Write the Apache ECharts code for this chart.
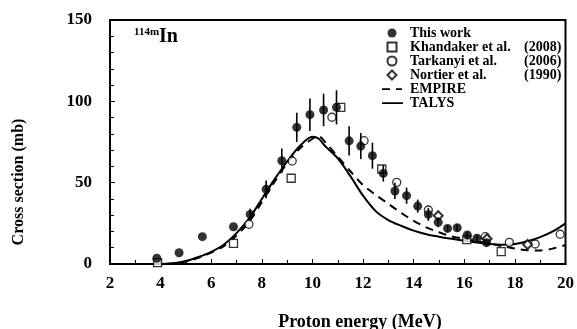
<!DOCTYPE html>
<html>
<head>
<meta charset="utf-8">
<script src="https://cdn.jsdelivr.net/npm/echarts@6/dist/echarts.min.js"></script>
<style>
  html, body { margin: 0; padding: 0; background: #fff; }
  #chart { width: 577px; height: 329px; }
</style>
</head>
<body>
<div id="chart"></div>
<script>
// This work (energy MeV, cross section mb, uncertainty mb)
var thisWorkE   = [3.85, 4.73, 5.65, 6.88, 7.54, 8.17, 8.79, 9.38, 9.9, 10.44, 10.95, 11.45, 11.91, 12.37, 12.8, 13.26, 13.72, 14.16, 14.58, 14.97, 15.34, 15.72, 16.12, 16.5, 16.88];
var thisWorkCS  = [3.5, 6.9, 16.8, 22.9, 30.5, 45.9, 63.5, 84, 91.8, 94.7, 96.3, 75.7, 72.5, 66.6, 55.7, 44.9, 42, 35.6, 30.5, 25.6, 21.9, 22.3, 17.8, 15.8, 13.1];
var thisWorkErr = [0, 0, 0, 0, 3.5, 5.5, 7.5, 9, 10, 10, 10.5, 9, 8, 8, 5, 5, 5, 4, 4, 3, 2, 2, 2, 2, 2];

var khandakerE  = [3.88, 6.88, 9.16, 11.12, 12.74, 16.1, 17.46];
var khandakerCS = [0.8, 12.7, 52.7, 96.3, 58.4, 15, 7.6];

var tarkanyiE  = [7.49, 9.2, 10.77, 12.04, 13.33, 14.58, 16.83, 17.78, 18.8, 19.79];
var tarkanyiCS = [24.4, 63.3, 90.2, 75.8, 50.2, 33.2, 16.8, 13.3, 12.3, 18.3];

var nortierE  = [14.97, 16.9, 18.5];
var nortierCS = [29.7, 15.5, 12];

var empireE  = [2, 4, 4.5, 5, 5.5, 6, 6.5, 7, 7.5, 8, 8.5, 9, 9.5, 10, 10.25, 10.5, 11, 11.5, 12, 12.5, 13, 13.5, 14, 14.5, 15, 15.5, 16, 16.5, 17, 17.5, 18, 18.5, 19, 19.5, 20];
var empireCS = [0, 0, 0.3, 1.5, 3.8, 7, 11, 17.5, 26, 38, 50.5, 62, 71, 77, 78.5, 75, 66, 57, 48.5, 42.5, 37, 31.5, 26.5, 22.5, 19.5, 17, 15.5, 14, 12.5, 11, 9.5, 8.5, 8.3, 9.5, 11.7];

var talysE  = [2, 4, 4.5, 5, 5.5, 6, 6.5, 7, 7.5, 8, 8.5, 9, 9.5, 10, 10.25, 10.5, 11, 11.5, 12, 12.5, 13, 13.5, 14, 14.5, 15, 15.5, 16, 16.5, 17, 17.5, 18, 18.5, 19, 19.5, 20];
var talysCS = [0, 0, 0.5, 1.8, 4.3, 7.5, 12, 19, 28, 40, 52, 63, 72.5, 78.2, 77, 72.5, 65, 54, 42, 32.5, 27, 23.5, 20.5, 18.3, 16.8, 15.5, 14.3, 13.2, 12.3, 11.8, 12.3, 14, 16.5, 20, 25];

var xTicks = [2, 4, 6, 8, 10, 12, 14, 16, 18, 20];
var yTicks = [0, 50, 100, 150];

function pairs(xs, ys) {
    return xs.map(function (x, i) { return [x, ys[i]]; });
}

// legend icons (tiny corner dots keep the curve icons at 26x9)
var corners = ' M0,0h.01v.01h-.01z M26,9h.01v.01h-.01z';
var solidIcon = 'path://M3,3.7h21v1.8h-21z' + corners;
var dashIcon = 'path://M3,3.7h8v1.8h-8z M17,3.7h6v1.8h-6z' + corners;
var squareIcon = 'path://M0,0h10v10h-10z';
var diamondIcon = 'path://M5,0L10,5L5,10L0,5z';

var serif = '"Liberation Serif", "Times New Roman", serif';
var myChart = echarts.init(document.getElementById('chart'));

var option = {
    backgroundColor: '#fff',
    animation: false,
    grid: { left: 110, right: 9, top: 20, bottom: 65, show: true, borderColor: '#000', borderWidth: 2 },
    legend: {
        orient: 'vertical',
        left: 374,
        top: 21,
        itemWidth: 26,
        itemHeight: 9,
        itemGap: 0,
        symbolKeepAspect: true,
        data: [
            { name: 'This work', icon: 'circle' },
            { name: 'Khandaker et al. (2008)', icon: squareIcon, symbolKeepAspect: true },
            { name: 'Tarkanyi et al. (2006)', icon: 'circle' },
            { name: 'Nortier et al. (1990)', icon: diamondIcon, symbolKeepAspect: true },
            { name: 'EMPIRE', icon: dashIcon },
            { name: 'TALYS', icon: solidIcon }
        ],
        formatter: function (name) {
            var m = name.match(/^(.*) (\(\d+\))$/);
            if (m) return '{a|' + m[1] + '}{b|' + m[2] + '}';
            return '{a|' + name + '}';
        },
        textStyle: {
            fontFamily: serif, fontWeight: 'bold', fontSize: 14, color: '#000', lineHeight: 14,
            rich: {
                a: { fontFamily: serif, fontWeight: 'bold', fontSize: 14, width: 114, lineHeight: 14 },
                b: { fontFamily: serif, fontWeight: 'bold', fontSize: 14, lineHeight: 14 }
            }
        }
    },
    xAxis: {
        type: 'value', min: xTicks[0], max: xTicks[xTicks.length - 1], interval: 2,
        axisLine: { lineStyle: { color: '#000', width: 2 } },
        axisTick: { inside: true, length: 5, lineStyle: { color: '#000' } },
        minorTick: { show: true, splitNumber: 2, length: 4, lineStyle: { color: '#000' } },
        axisLabel: { fontFamily: serif, fontWeight: 'bold', fontSize: 17, color: '#000', margin: 11 },
        splitLine: { show: false }
    },
    yAxis: {
        type: 'value', min: yTicks[0], max: yTicks[yTicks.length - 1], interval: 50,
        axisLine: { lineStyle: { color: '#000', width: 2 } },
        axisTick: { inside: true, length: 5, lineStyle: { color: '#000' } },
        minorTick: { show: true, splitNumber: 5, length: 4, lineStyle: { color: '#000' } },
        axisLabel: { fontFamily: serif, fontWeight: 'bold', fontSize: 17, color: '#000', margin: 18 },
        splitLine: { show: false }
    },
    graphic: [
        {
            type: 'text', left: 134, top: 27,
            style: {
                text: '{s|114m}{b|In}',
                rich: {
                    s: { fontFamily: serif, fontWeight: 'bold', fontSize: 11, verticalAlign: 'top', padding: [0, 0, 9, 0] },
                    b: { fontFamily: serif, fontWeight: 'bold', fontSize: 20 }
                },
                fill: '#000'
            }
        },
        {
            type: 'text', x: 360, y: 322,
            style: { text: 'Proton energy (MeV)', fontFamily: serif, fontWeight: 'bold', fontSize: 18, fill: '#000', textAlign: 'center', textVerticalAlign: 'middle' }
        },
        {
            type: 'text', x: 19, y: 182, rotation: Math.PI / 2,
            style: { text: 'Cross section (mb)', fontFamily: serif, fontWeight: 'bold', fontSize: 16, fill: '#000', textAlign: 'center', textVerticalAlign: 'middle' }
        }
    ],
    series: [
        {
            name: 'TALYS', type: 'line', data: pairs(talysE, talysCS),
            showSymbol: false, symbol: 'none', smooth: 0.3,
            lineStyle: { color: '#000', width: 2 }, itemStyle: { color: '#000' }, z: 2
        },
        {
            name: 'EMPIRE', type: 'line', data: pairs(empireE, empireCS),
            showSymbol: false, symbol: 'none', smooth: 0.3,
            lineStyle: { color: '#000', width: 2, type: [8, 6] }, itemStyle: { color: '#000' }, z: 2
        },
        {
            name: 'Khandaker et al. (2008)', type: 'scatter', data: pairs(khandakerE, khandakerCS),
            symbol: 'rect', symbolSize: 8,
            itemStyle: { color: '#fff', borderColor: '#000', borderWidth: 1.3 }, z: 3
        },
        {
            name: 'Tarkanyi et al. (2006)', type: 'scatter', data: pairs(tarkanyiE, tarkanyiCS),
            symbol: 'circle', symbolSize: 8,
            itemStyle: { color: '#fff', borderColor: '#000', borderWidth: 1.3 }, z: 3
        },
        {
            name: 'Nortier et al. (1990)', type: 'scatter', data: pairs(nortierE, nortierCS),
            symbol: 'diamond', symbolSize: 9,
            itemStyle: { color: '#fff', borderColor: '#000', borderWidth: 2 }, z: 3
        },
        {
            name: 'errorbars', type: 'custom',
            data: thisWorkE.map(function (x, i) { return [x, thisWorkCS[i], thisWorkErr[i]]; }),
            encode: { x: 0, y: 1 },
            renderItem: function (params, api) {
                var x = api.value(0), y = api.value(1), e = api.value(2);
                var hi = api.coord([x, y + e]);
                var lo = api.coord([x, y - e]);
                return {
                    type: 'line',
                    shape: { x1: hi[0], y1: hi[1], x2: lo[0], y2: lo[1] },
                    style: { stroke: '#000', lineWidth: 1.6 }
                };
            },
            z: 4
        },
        {
            name: 'This work', type: 'scatter', data: pairs(thisWorkE, thisWorkCS),
            symbol: 'circle', symbolSize: 9,
            itemStyle: { color: '#000' }, z: 5
        }
    ]
};
myChart.setOption(option);
</script>
</body>
</html>
